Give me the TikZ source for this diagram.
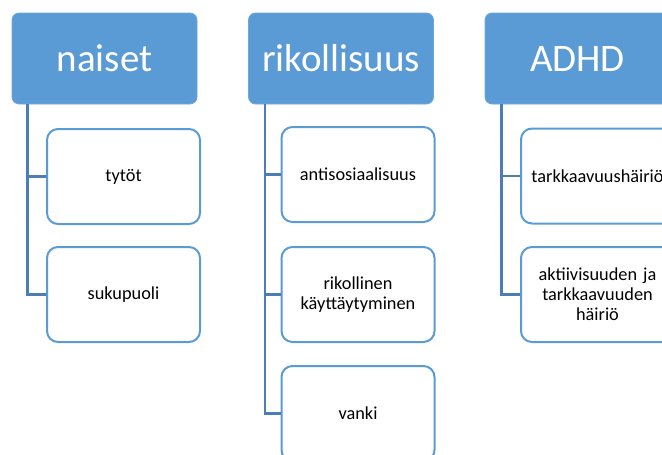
\documentclass[tikz,border=0pt]{standalone}
\usepackage{fontspec}
\setmainfont{Carlito}
\definecolor{hdrblue}{HTML}{5B9BD5}
\definecolor{hdredge}{HTML}{6FA7DA}
\definecolor{lineblue}{HTML}{4A7EB5}
\begin{document}
\begin{tikzpicture}[x=1pt,y=-1pt,
  header/.style={fill=hdrblue, draw=hdredge, line width=0.8pt, rounded corners=7pt,
    minimum width=185pt, minimum height=91pt, inner sep=0pt,
    text=white, font=\fontsize{39}{44}\selectfont},
  child/.style={fill=white, draw=hdrblue, line width=2pt, rounded corners=11pt,
    minimum width=153pt, minimum height=95pt, inner xsep=9pt, inner ysep=2pt,
    text width=135pt, align=center, text=black, font=\fontsize{18.3}{20}\selectfont},
  conn/.style={draw=lineblue, line width=2.6pt}]
\useasboundingbox (0,0) rectangle (662,455);
\begin{scope}
\clip (0,0) rectangle (662,455);
% headers
\node[header] (h1) at (104.5,58.5) {naiset};
\node[header] (h2) at (341,58.5) {rikollisuus};
\node[header] (h3) at (577.5,58.5) {ADHD};
% column 1
\node[child] (c1a) at (123.5,176.5) {tytöt};
\node[child] (c1b) at (123.5,294.5) {sukupuoli};
% column 2
\node[child] (c2a) at (358,174.5) {antisosiaalisuus};
\node[child] (c2b) at (358,294.5) {rikollinen\\käyttäytyminen};
\node[child] (c2c) at (358,413.5) {vanki};
% column 3
\node[child] (c3a) at (597.5,176) {tarkkaavuushäiriö};
\node[child] (c3b) at (597.5,294.5) {aktiivisuuden ja\\tarkkaavuuden\\häiriö};
% connectors
\draw[conn] ([xshift=16pt]h1.south west) |- (c1a.west);
\draw[conn] ([xshift=16pt]h1.south west) |- (c1b.west);
\draw[conn] ([xshift=17pt]h2.south west) |- (c2a.west);
\draw[conn] ([xshift=17pt]h2.south west) |- (c2b.west);
\draw[conn] ([xshift=17pt]h2.south west) |- (c2c.west);
\draw[conn] ([xshift=17pt]h3.south west) |- (c3a.west);
\draw[conn] ([xshift=17pt]h3.south west) |- (c3b.west);
\end{scope}
\end{tikzpicture}
\end{document}
